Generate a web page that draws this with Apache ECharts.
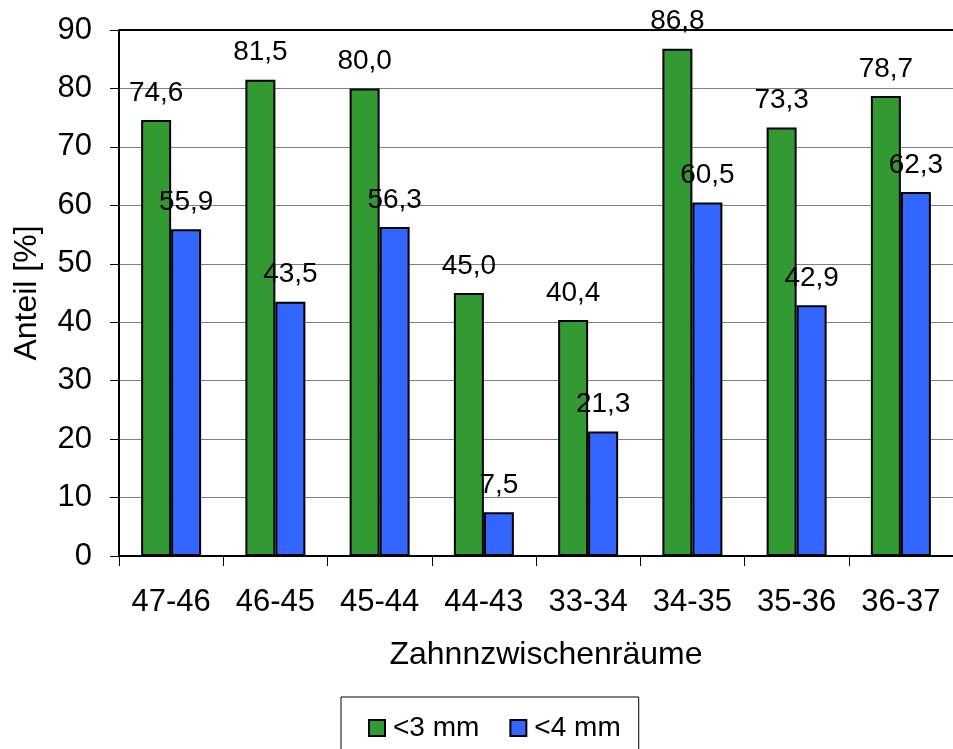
<!DOCTYPE html>
<html>
<head>
<meta charset="utf-8">
<script src="https://cdn.jsdelivr.net/npm/echarts@6/dist/echarts.min.js"></script>
<style>
    html, body { margin: 0; padding: 0; background: #fff; }
    #chart { width: 953px; height: 749px; }
</style>
</head>
<body>
<div id="chart"></div>
<script>
// Zahnzwischenräume (x-Achse)
var categories = ['47-46', '46-45', '45-44', '44-43', '33-34', '34-35', '35-36', '36-37'];
// Anteil [%]
var under3mm = [74.6, 81.5, 80.0, 45.0, 40.4, 86.8, 73.3, 78.7];
var under4mm = [55.9, 43.5, 56.3, 7.5, 21.3, 60.5, 42.9, 62.3];
var yTicks = [0, 10, 20, 30, 40, 50, 60, 70, 80, 90];

var font = 'Liberation Sans, Arial, sans-serif';

var chart = echarts.init(document.getElementById('chart'));

function fmt(v) {
    return v.toFixed(1).replace('.', ',');
}

var barLabel = {
    show: true,
    position: 'top',
    distance: 13,
    color: '#000',
    fontSize: 28,
    fontFamily: font,
    formatter: function (p) { return fmt(p.value); }
};

var option = {
    animation: false,
    backgroundColor: '#fff',
    textStyle: { fontFamily: font },
    grid: { left: 119, right: -6, top: 30, bottom: 193, containLabel: false },
    legend: {
        left: 341,
        top: 697,
        padding: [17, 18, 40, 27],
        borderColor: '#000',
        borderWidth: 1,
        icon: 'rect',
        itemWidth: 16,
        itemHeight: 16,
        itemGap: 30,
        textStyle: { fontSize: 28, color: '#000', fontFamily: font, padding: [0, 0, 0, 3] },
        data: [
            { name: '<3 mm', itemStyle: { borderColor: '#000', borderWidth: 2 } },
            { name: '<4 mm', itemStyle: { borderColor: '#000', borderWidth: 2 } }
        ]
    },
    xAxis: {
        type: 'category',
        data: categories,
        name: 'Zahnnzwischenräume',
        nameLocation: 'middle',
        nameGap: 83,
        nameTextStyle: { fontSize: 32, color: '#000', fontFamily: font, padding: [0, 0, 0, 20] },
        axisLine: { lineStyle: { color: '#000', width: 2 } },
        axisTick: { show: true, length: 10, lineStyle: { color: '#000', width: 1 } },
        axisLabel: { fontSize: 31, color: '#000', fontFamily: font, margin: 31 }
    },
    yAxis: {
        type: 'value',
        min: yTicks[0],
        max: yTicks[yTicks.length - 1],
        interval: 10,
        name: 'Anteil [%]',
        nameLocation: 'middle',
        nameGap: 76,
        nameRotate: 90,
        nameTextStyle: { fontSize: 32, color: '#000', fontFamily: font },
        axisLine: { show: true, lineStyle: { color: '#000', width: 2 } },
        axisTick: { show: true, length: 9, lineStyle: { color: '#000', width: 1 } },
        axisLabel: { fontSize: 31, color: '#000', fontFamily: font, margin: 27 },
        splitLine: { lineStyle: { color: '#808080', width: 1 } }
    },
    series: [
        {
            name: '<3 mm',
            type: 'bar',
            data: under3mm,
            barWidth: 30,
            barGap: '0%',
            itemStyle: { color: '#339933', borderColor: '#000', borderWidth: 2 },
            label: barLabel,
            //obere Rahmenlinie
            markLine: {
                silent: true,
                symbol: 'none',
                label: { show: false },
                lineStyle: { color: '#000', width: 2, type: 'solid' },
                data: [{ yAxis: yTicks[yTicks.length - 1] }]
            }
        },
        {
            name: '<4 mm',
            type: 'bar',
            data: under4mm,
            barWidth: 30,
            itemStyle: { color: '#3366ff', borderColor: '#000', borderWidth: 2 },
            label: barLabel
        }
    ]
};

chart.setOption(option);
</script>
</body>
</html>
